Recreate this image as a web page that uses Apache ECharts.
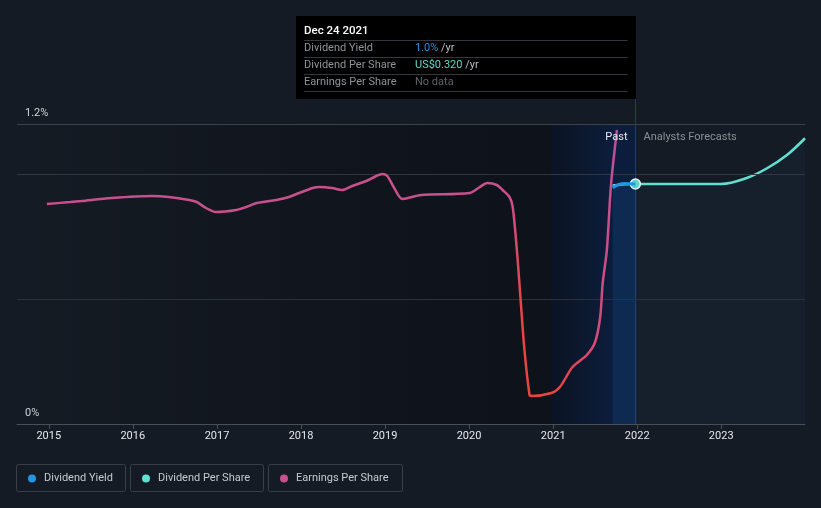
<!DOCTYPE html>
<html>
<head>
<meta charset="utf-8">
<script src="https://cdn.jsdelivr.net/npm/echarts@6/dist/echarts.min.js"></script>
<style>
html,body{margin:0;padding:0;background:#151b24;}
#chart{width:821px;height:508px;}
</style>
</head>
<body>
<div id="chart"></div>
<script>
// ---- Data ----
const yieldDates = ['2021-09-16', '2021-11-05', '2021-12-24'];
const yieldValues = [0.945, 0.962, 0.96]; // % per year

const dpsDates = ['2021-09-16', '2021-12-24', '2022-06-30', '2022-12-31', '2023-04-22', '2023-07-19', '2023-10-15', '2023-12-31'];
const dpsValues = [0.318, 0.320, 0.320, 0.320, 0.328, 0.341, 0.359, 0.381]; // US$

const epsDates = ['2014-12-24','2015-04-05','2015-05-22','2015-10-01','2016-03-25','2016-06-06','2016-09-02','2016-10-05','2016-11-14','2016-12-28',
  '2017-03-26','2017-05-08','2017-06-24','2017-09-16','2017-11-10','2017-12-24','2018-02-21','2018-03-22','2018-05-16','2018-06-28',
  '2018-08-11','2018-10-12','2018-11-24','2018-12-20','2019-01-11','2019-02-10','2019-03-18','2019-06-07','2020-01-04','2020-02-17',
  '2020-03-21','2020-05-01','2020-05-26','2020-06-25','2020-07-09','2020-07-27','2020-08-07','2020-08-29','2020-09-20','2020-09-27',
  '2020-12-24','2021-01-30','2021-03-26','2021-05-27','2021-07-02','2021-07-24','2021-08-04','2021-08-22','2021-09-09','2021-10-05'];
const epsValues = [4.40,4.44,4.46,4.52,4.56,4.54,4.48,4.44,4.32,4.24,
  4.28,4.34,4.42,4.48,4.54,4.62,4.72,4.74,4.72,4.68,
  4.76,4.86,4.96,5.00,4.96,4.72,4.50,4.58,4.62,4.74,
  4.82,4.78,4.68,4.54,4.34,3.48,2.82,1.48,0.58,0.56,
  0.62,0.74,1.14,1.38,1.64,2.14,2.82,3.48,4.78,5.88];

const yTickLabels = {0: '0%', 1.2: '1.2%'};
const seriesNames = ['Dividend Yield', 'Dividend Per Share', 'Earnings Per Share'];
const tooltipDate = '2021-12-24';
const tooltipTitle = 'Dec 24 2021';

// ---- Styling ----
const C_YIELD = '#2394df', C_DPS = '#5fe0d2', C_EPS = '#c8508e', C_RED = '#e84444';
const FONT = 'Roboto, "Noto Sans", sans-serif';

const zip = (d, v) => d.map((x, i) => [x, v[i]]);

const chart = echarts.init(document.getElementById('chart'), null, {renderer: 'canvas'});

const dpsData = zip(dpsDates, dpsValues).map(p => p[0] === tooltipDate
  ? {value: p, symbol: 'circle', symbolSize: 10, itemStyle: {color: '#5fd4cc', borderColor: '#e8f4f4', borderWidth: 1.5}}
  : {value: p});

const option = {
  backgroundColor: '#151b24',
  animation: false,
  textStyle: {fontFamily: FONT},
  grid: {left: 17, right: 16, top: 124, bottom: 84, containLabel: false},
  xAxis: {
    type: 'time',
    min: '2014-08-16',
    max: '2023-12-31',
    splitNumber: 10,
    minInterval: 365 * 86400000,
    maxInterval: 366 * 86400000,
    axisLine: {show: true, lineStyle: {color: '#4a4f57', width: 1}},
    axisTick: {show: true, length: 5, lineStyle: {color: '#4a4f57'}},
    axisLabel: {color: '#e6e8ea', fontSize: 11, margin: 7, formatter: '{yyyy}', fontFamily: FONT, showMaxLabel: false},
    splitLine: {show: false}
  },
  yAxis: [
    {
      type: 'value', min: 0, max: 1.2, interval: 0.6,
      axisLine: {show: false}, axisTick: {show: false}, splitLine: {show: false},
      axisLabel: {
        inside: true, margin: 8, color: '#d0d3d7', fontSize: 11, fontFamily: FONT,
        verticalAlign: 'bottom', padding: [0, 0, 5, 0],
        formatter: v => {
          for (const k in yTickLabels) if (Math.abs(v - Number(k)) < 1e-9) return yTickLabels[k];
          return '';
        }
      }
    },
    {type: 'value', min: 0, max: 0.4, show: false},
    {type: 'value', min: 0, max: 6, show: false}
  ],
  legend: seriesNames.map((n, i) => ({
    data: [n],
    left: [23, 137, 275][i],
    top: 468,
    icon: 'circle',
    itemWidth: 14, itemHeight: 8,
    textStyle: {color: '#c6cad0', fontSize: 11, fontFamily: FONT},
    selectedMode: false
  })),
  series: [
    {
      name: 'bands', type: 'line', data: [], silent: true, z: 1,
      markArea: {
        silent: true,
        data: [
          [{xAxis: '2014-08-16', itemStyle: {color: new echarts.graphic.LinearGradient(0, 0, 1, 0, [
              {offset: 0, color: 'rgba(0,0,0,0)'}, {offset: 1, color: 'rgba(0,2,6,0.36)'}])}},
           {xAxis: '2020-12-22'}],
          [{xAxis: '2020-12-22', itemStyle: {color: new echarts.graphic.LinearGradient(0, 0, 1, 0, [
              {offset: 0, color: 'rgba(5,15,35,0.6)'}, {offset: 0.72, color: 'rgba(8,30,70,0.72)'}, {offset: 1, color: 'rgba(8,30,70,0.72)'}])}},
           {xAxis: '2021-12-30'}]
        ]
      },
      markLine: {
        silent: true, symbol: 'none', label: {show: false},
        data: [
          {yAxis: 0.5, lineStyle: {color: '#2b313a', width: 1, type: 'solid'}},
          {yAxis: 1.0, lineStyle: {color: '#30363f', width: 1, type: 'solid'}},
          {yAxis: 1.2, lineStyle: {color: '#3c424b', width: 1, type: 'solid'}}
        ]
      }
    },
    {
      name: 'Dividend Per Share', type: 'line', yAxisIndex: 1, z: 3,
      data: dpsData, smooth: 0.35,
      symbol: 'none', showSymbol: true,
      itemStyle: {color: C_DPS},
      lineStyle: {color: C_DPS, width: 2.5},
      areaStyle: {color: 'rgba(60,140,200,0.07)'}
    },
    {
      name: 'Dividend Yield', type: 'line', yAxisIndex: 0, z: 4,
      data: zip(yieldDates, yieldValues), smooth: 0.4,
      symbol: 'none', showSymbol: false,
      itemStyle: {color: C_YIELD},
      lineStyle: {color: C_YIELD, width: 3},
      areaStyle: {color: 'rgba(30,120,220,0.14)'}
    },
    {
      name: 'Earnings Per Share', type: 'line', yAxisIndex: 2, z: 5,
      data: zip(epsDates, epsValues), smooth: 0.3,
      symbol: 'none', showSymbol: false,
      itemStyle: {color: C_EPS},
      lineStyle: {width: 2.5, color: new echarts.graphic.LinearGradient(0, 0, 1, 0, [
        {offset: 0, color: C_EPS}, {offset: 0.812, color: C_EPS}, {offset: 0.83, color: C_RED},
        {offset: 0.9, color: C_RED}, {offset: 0.985, color: C_EPS}, {offset: 1, color: '#b04ca0'}])}
    }
  ]
};
chart.setOption(option);

// ---- Overlays: cursor line, tooltip box, Past/Forecast labels, legend frames ----
const cx = Math.round(chart.convertToPixel({xAxisIndex: 0}, +new Date(tooltipDate))) + 0.5;
const gridBottom = 424;
const tipW = 340, tipH = 83, tipTop = 16, tipLeft = cx + 0.5 - tipW;
const tx = tipLeft + 8, vx = tipLeft + 119;
const rowY = [31, 48, 65, 82];
const sepY = [40, 57, 74, 91];
const g = [];
g.push({type: 'line', silent: true, z: 1, shape: {x1: cx, y1: tipTop + tipH, x2: cx, y2: gridBottom}, style: {stroke: 'rgba(50,90,135,0.55)', lineWidth: 1}});
g.push({type: 'rect', silent: true, z: 10, shape: {x: tipLeft, y: tipTop, width: tipW, height: tipH}, style: {fill: '#000000'}});
sepY.forEach(y => g.push({type: 'line', silent: true, z: 11, shape: {x1: tx, y1: y + 0.5, x2: cx - 8, y2: y + 0.5}, style: {stroke: '#34383e', lineWidth: 1}}));
g.push({type: 'text', silent: true, z: 11, style: {text: tooltipTitle, x: tx, y: rowY[0], fill: '#ffffff', font: '500 11.5px ' + FONT, verticalAlign: 'middle'}});
const rows = [
  [seriesNames[0], '{v|1.0%} {u|/yr}', '#2394df'],
  [seriesNames[1], '{v|US$0.320} {u|/yr}', '#5ed9c8'],
  [seriesNames[2], '{n|No data}', '#5a5f66']
];
rows.forEach((r, i) => {
  g.push({type: 'text', silent: true, z: 11, style: {text: r[0], x: tx, y: rowY[i + 1], fill: '#8e939a', font: '11px ' + FONT, verticalAlign: 'middle'}});
  g.push({type: 'text', silent: true, z: 11, style: {text: r[1], x: vx, y: rowY[i + 1], font: '11px ' + FONT, verticalAlign: 'middle',
    rich: {v: {fill: r[2], font: '11px ' + FONT}, u: {fill: '#b9bdc2', font: '11px ' + FONT}, n: {fill: '#5d6269', font: '11px ' + FONT}}}});
});
g.push({type: 'text', silent: true, z: 11, style: {text: 'Past', x: cx - 8, y: 137, fill: '#e8eaec', font: '11px ' + FONT, align: 'right', verticalAlign: 'middle'}});
g.push({type: 'text', silent: true, z: 11, style: {text: 'Analysts Forecasts', x: cx + 8, y: 137, fill: '#8b9096', font: '11px ' + FONT, align: 'left', verticalAlign: 'middle'}});
[[16.5, 109], [130.5, 133], [268.5, 134]].forEach(b => g.push({type: 'rect', silent: true, z: 0, shape: {x: b[0], y: 464.5, width: b[1], height: 27, r: 2}, style: {fill: 'none', stroke: '#3a3f47', lineWidth: 1}}));
chart.setOption({graphic: g});
</script>
</body>
</html>
